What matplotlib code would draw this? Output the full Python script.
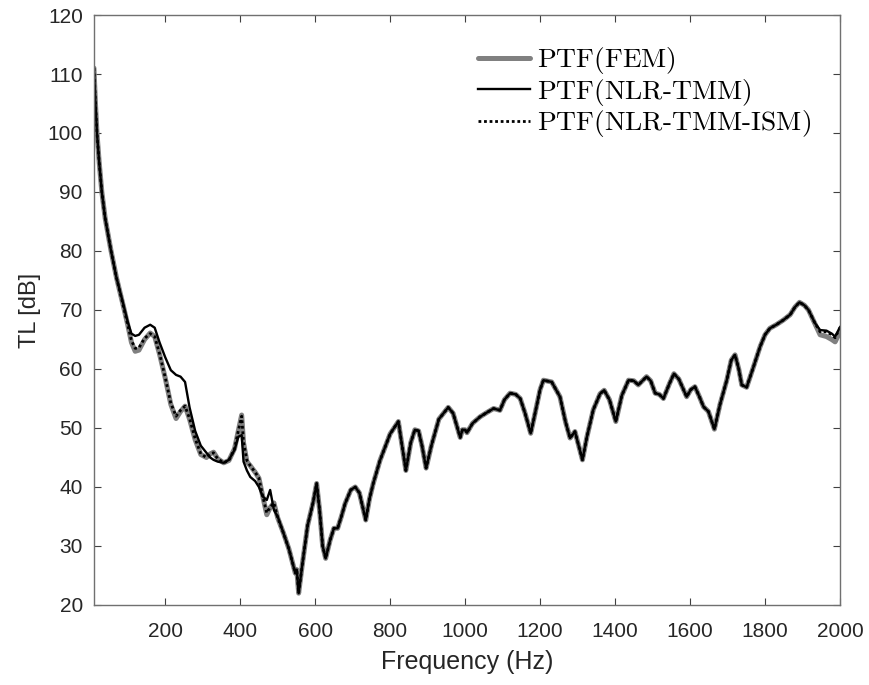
import matplotlib.pyplot as plt

# transmission loss curves, frequency in Hz, TL in dB
freq = [10, 14, 18, 24, 31, 40, 55, 70, 89, 100, 110, 120, 130, 145, 160, 172, 185, 200,
        215, 229, 241, 253, 265, 280, 295, 310, 320, 329, 340, 356, 370, 385, 395, 404,
        409, 418, 427, 440, 450, 460, 471, 480, 490, 500, 516, 530, 547, 551, 556, 565,
        580, 595, 604, 612, 620, 628, 640, 650, 660, 670, 680, 695, 707, 718, 735, 745,
        755, 773, 800, 822, 832, 842, 855, 866, 876, 885, 896, 910, 930, 955, 968, 987,
        993, 1000, 1005, 1020, 1040, 1060, 1076, 1093, 1105, 1120, 1135, 1147, 1160, 1175,
        1185, 1200, 1209, 1231, 1253, 1268, 1280, 1293, 1305, 1313, 1325, 1342, 1360, 1371,
        1385, 1402, 1418, 1436, 1450, 1462, 1484, 1495, 1507, 1518, 1529, 1545, 1557, 1570,
        1591, 1602, 1613, 1625, 1636, 1649, 1665, 1680, 1698, 1710, 1720, 1730, 1738, 1751,
        1770, 1787, 1800, 1813, 1830, 1849, 1867, 1880, 1892, 1905, 1916, 1933, 1947, 1964,
        1978, 1987, 2000]

tl_fem = [111, 105, 100, 95, 90, 85.5, 80.2, 75.5, 70.5, 67.5, 64.5, 63.0, 63.2, 65.0, 66.1,
          65.5, 62.5, 58.5, 54.0, 51.6, 52.8, 53.7, 51.5, 48.0, 45.5, 45.0, 45.6, 45.9, 44.8,
          44.1, 44.5, 46.5, 49.5, 52.2, 47.5, 44.3, 43.6, 42.5, 41.5, 38.5, 35.3, 36.5, 37.3,
          34.8, 32.1, 29.5, 25.4, 26.0, 22.0, 26.5, 33.5, 37.5, 40.6, 36.0, 30.0, 27.9, 31.0,
          33.0, 33.0, 35.0, 37.2, 39.5, 40.0, 39.0, 34.4, 38.0, 40.6, 44.5, 49.0, 51.1, 47.0,
          42.8, 47.5, 49.7, 49.5, 47.0, 43.2, 47.0, 51.5, 53.5, 52.5, 48.4, 49.7, 49.7, 49.2,
          50.8, 51.9, 52.7, 53.3, 53.0, 54.8, 55.9, 55.7, 55.0, 52.5, 49.1, 52.0, 56.5, 58.1,
          57.8, 55.3, 51.0, 48.3, 49.4, 46.5, 44.6, 48.5, 53.1, 55.8, 56.4, 54.8, 51.1, 55.5,
          58.1, 58.0, 57.3, 58.7, 58.0, 55.9, 55.7, 55.0, 57.5, 59.2, 58.3, 55.3, 56.5, 57.0,
          55.3, 53.6, 52.8, 49.8, 54.0, 58.1, 61.5, 62.4, 60.0, 57.3, 56.9, 60.5, 63.8, 65.8,
          66.9, 67.5, 68.3, 69.2, 70.5, 71.3, 70.8, 70.0, 67.7, 65.8, 65.5, 65.0, 64.6, 66.3]

tl_tmm = [111, 105, 100, 95, 90, 85.5, 80.2, 75.5, 70.8, 68.0, 66.0, 65.6, 65.8, 67.0, 67.5,
          67.0, 64.5, 62.0, 59.8, 59.0, 58.7, 57.8, 53.5, 49.5, 47.0, 45.8, 45.0, 44.6, 44.3,
          44.1, 44.6, 46.3, 48.5, 48.8, 44.3, 42.8, 41.7, 41.0, 40.0, 38.4, 37.8, 39.5, 36.1,
          35.0, 32.1, 29.5, 25.4, 26.0, 22.0, 26.5, 33.5, 37.5, 40.6, 36.0, 30.0, 27.9, 31.0,
          33.0, 33.0, 35.0, 37.2, 39.5, 40.0, 39.0, 34.4, 38.0, 40.6, 44.5, 49.0, 51.1, 47.0,
          42.8, 47.5, 49.7, 49.5, 47.0, 43.2, 47.0, 51.5, 53.5, 52.5, 48.4, 49.7, 49.7, 49.2,
          50.8, 51.9, 52.7, 53.3, 53.0, 54.8, 55.9, 55.7, 55.0, 52.5, 49.1, 52.0, 56.5, 58.1,
          57.8, 55.3, 51.0, 48.3, 49.4, 46.5, 44.6, 48.5, 53.1, 55.8, 56.4, 54.8, 51.1, 55.5,
          58.1, 58.0, 57.3, 58.7, 58.0, 55.9, 55.7, 55.0, 57.5, 59.2, 58.3, 55.3, 56.5, 57.0,
          55.3, 53.6, 52.8, 49.8, 54.0, 58.1, 61.5, 62.4, 60.0, 57.3, 56.9, 60.5, 63.8, 65.8,
          66.9, 67.5, 68.3, 69.2, 70.5, 71.3, 70.8, 70.0, 67.8, 66.6, 66.5, 66.0, 65.5, 67.1]

tl_ism = [111, 105, 100, 95, 90, 85.5, 80.2, 75.5, 70.5, 67.5, 64.8, 63.5, 63.6, 65.2, 66.0,
          65.5, 62.6, 58.6, 54.2, 52.0, 53.0, 53.7, 51.6, 48.2, 45.6, 45.0, 45.6, 45.8, 44.8,
          44.1, 44.5, 46.5, 49.5, 52.0, 47.6, 44.5, 43.6, 42.5, 41.5, 38.5, 35.6, 36.6, 37.3,
          34.8, 32.1, 29.5, 25.4, 26.0, 22.0, 26.5, 33.5, 37.5, 40.6, 36.0, 30.0, 27.9, 31.0,
          33.0, 33.0, 35.0, 37.2, 39.5, 40.0, 39.0, 34.4, 38.0, 40.6, 44.5, 49.0, 51.1, 47.0,
          42.8, 47.5, 49.7, 49.5, 47.0, 43.2, 47.0, 51.5, 53.5, 52.5, 48.4, 49.7, 49.7, 49.2,
          50.8, 51.9, 52.7, 53.3, 53.0, 54.8, 55.9, 55.7, 55.0, 52.5, 49.1, 52.0, 56.5, 58.1,
          57.8, 55.3, 51.0, 48.3, 49.4, 46.5, 44.6, 48.5, 53.1, 55.8, 56.4, 54.8, 51.1, 55.5,
          58.1, 58.0, 57.3, 58.7, 58.0, 55.9, 55.7, 55.0, 57.5, 59.2, 58.3, 55.3, 56.5, 57.0,
          55.3, 53.6, 52.8, 49.8, 54.0, 58.1, 61.5, 62.4, 60.0, 57.3, 56.9, 60.5, 63.8, 65.8,
          66.9, 67.5, 68.3, 69.2, 70.5, 71.3, 70.8, 70.0, 67.8, 66.3, 66.3, 65.8, 65.3, 67.0]

xticks = [200, 400, 600, 800, 1000, 1200, 1400, 1600, 1800, 2000]
yticks = [20, 30, 40, 50, 60, 70, 80, 90, 100, 110, 120]

plt.rcParams['font.family'] = ['Liberation Sans', 'DejaVu Sans']
plt.rcParams['mathtext.fontset'] = 'cm'

fig = plt.figure(figsize=(8.7, 6.85), dpi=100)
ax = fig.add_axes([0.108, 0.1168, 0.8575, 0.8613])

ax.plot(freq, tl_fem, color='#808080', lw=3.6, solid_joinstyle='round',
        solid_capstyle='round', label=r'$\mathrm{PTF(FEM)}$')
ax.plot(freq, tl_tmm, color='black', lw=1.7, solid_joinstyle='round',
        label=r'$\mathrm{PTF(NLR\text{-}TMM)}$')
ax.plot(freq, tl_ism, color='black', lw=2.0, linestyle=(0, (1, 1)),
        label=r'$\mathrm{PTF(NLR\text{-}TMM\text{-}ISM)}$')

ax.set_xlim(10, 2000)
ax.set_ylim(20, 120)
ax.set_xticks(xticks)
ax.set_yticks(yticks)
ax.tick_params(direction='in', top=True, right=True, labelsize=15, length=5,
               color='#404040', width=0.8, labelcolor='#262626')
ax.tick_params(axis='x', pad=12)
ax.tick_params(axis='y', pad=8)
for s in ax.spines.values():
    s.set_color('#707070')
    s.set_linewidth(1.0)

ax.set_xlabel('Frequency (Hz)', fontsize=18, color='#262626', labelpad=7)
ax.set_ylabel('TL [dB]', fontsize=17, color='#262626', labelpad=5)

ax.legend(loc='upper left', bbox_to_anchor=(0.5147, 0.9485), frameon=False,
          fontsize=19.8, handlelength=1.9, handletextpad=0.25, labelspacing=0.02,
          borderaxespad=0, borderpad=0)

fig.savefig('out.png', dpi=100)
